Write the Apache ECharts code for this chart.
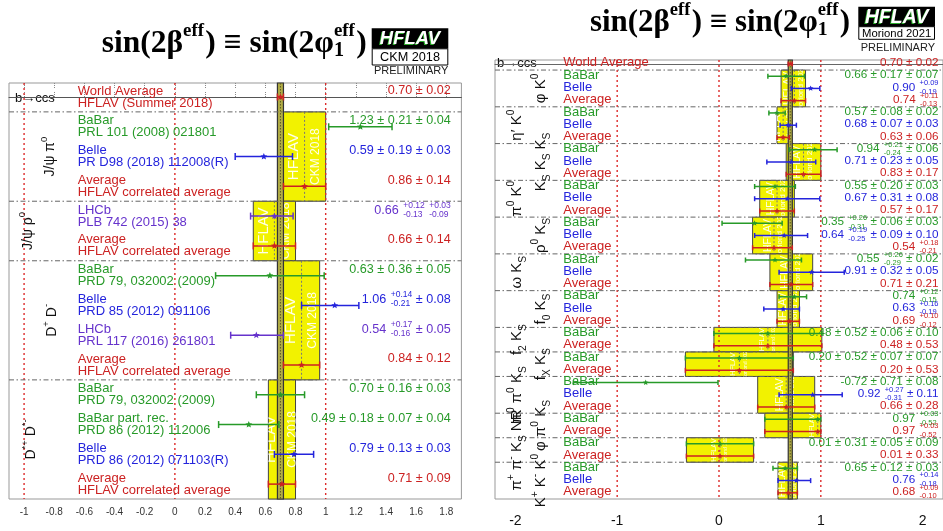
<!DOCTYPE html>
<html>
<head>
<meta charset="utf-8">
<title>sin(2beta eff) averages</title>
<script src="https://cdn.jsdelivr.net/npm/echarts@6.0.0/dist/echarts.min.js"></script>
<style>
  html, body { margin: 0; padding: 0; background: #fff; }
  #chart { width: 943px; height: 531px; }
</style>
</head>
<body>
<div id="chart"></div>
<script>
// ---------- left panel: CKM 2018, b -> ccd modes ----------
const leftExp = ['World', 'BaBar', 'Belle', 'Average', 'LHCb', 'Average', 'BaBar', 'Belle', 'LHCb', 'Average',
  'BaBar', 'BaBar', 'Belle', 'Average'];
const leftName = ['World Average', 'BaBar', 'Belle', 'Average', 'LHCb', 'Average', 'BaBar', 'Belle', 'LHCb', 'Average',
  'BaBar', 'BaBar part. rec.', 'Belle', 'Average'];
const leftRef = ['HFLAV (Summer 2018)', 'PRL 101 (2008) 021801', 'PR D98 (2018) 112008(R)', 'HFLAV correlated average',
  'PLB 742 (2015) 38', 'HFLAV correlated average', 'PRD 79, 032002 (2009)', 'PRD 85 (2012) 091106',
  'PRL 117 (2016) 261801', 'HFLAV correlated average', 'PRD 79, 032002 (2009)', 'PRD 86 (2012) 112006',
  'PRD 86 (2012) 071103(R)', 'HFLAV correlated average'];
const leftVal = [0.70, 1.23, 0.59, 0.86, 0.66, 0.66, 0.63, 1.06, 0.54, 0.84, 0.70, 0.49, 0.79, 0.71];
const leftErrUp = [0.02, 0.21, 0.19, 0.14, 0.124, 0.14, 0.36, 0.16, 0.18, 0.12, 0.16, 0.20, 0.13, 0.09];
const leftErrDn = [0.02, 0.21, 0.19, 0.14, 0.158, 0.14, 0.36, 0.22, 0.17, 0.12, 0.16, 0.20, 0.13, 0.09];
const leftValText = ['0.70 ± 0.02', '1.23 ± 0.21 ± 0.04', '0.59 ± 0.19 ± 0.03', '0.86 ± 0.14',
  '0.66 [+0.12|-0.13] [+0.03|-0.09]', '0.66 ± 0.14', '0.63 ± 0.36 ± 0.05', '1.06 [+0.14|-0.21] ± 0.08',
  '0.54 [+0.17|-0.16] ± 0.05', '0.84 ± 0.12', '0.70 ± 0.16 ± 0.03', '0.49 ± 0.18 ± 0.07 ± 0.04',
  '0.79 ± 0.13 ± 0.03', '0.71 ± 0.09'];
const leftGroup = ['J/ψ π^0', 'J/ψ ρ^0', 'D^+ D^-', 'D^{*+} D^{*-}'];
const leftGroupFrom = [0.5, 3.5, 5.5, 9.5];
const leftGroupTo = [3.5, 5.5, 9.5, 13.5];
const leftGroupAvg = [3, 5, 9, 13];
const leftTicks = [-1, -0.8, -0.6, -0.4, -0.2, 0, 0.2, 0.4, 0.6, 0.8, 1, 1.2, 1.4, 1.6, 1.8];

// ---------- right panel: Moriond 2021, b -> qqs modes ----------
const rightExp = ['World',
  'BaBar', 'Belle', 'Average', 'BaBar', 'Belle', 'Average', 'BaBar', 'Belle', 'Average',
  'BaBar', 'Belle', 'Average', 'BaBar', 'Belle', 'Average', 'BaBar', 'Belle', 'Average',
  'BaBar', 'Belle', 'Average', 'BaBar', 'Average', 'BaBar', 'Average',
  'BaBar', 'Belle', 'Average', 'BaBar', 'Average', 'BaBar', 'Average', 'BaBar', 'Belle', 'Average'];
const rightVal = [0.70,
  0.66, 0.90, 0.74, 0.57, 0.68, 0.63, 0.94, 0.71, 0.83,
  0.55, 0.67, 0.57, 0.35, 0.64, 0.54, 0.55, 0.91, 0.71,
  0.74, 0.63, 0.69, 0.48, 0.48, 0.20, 0.20,
  -0.72, 0.92, 0.66, 0.97, 0.97, 0.01, 0.01, 0.65, 0.76, 0.68];
const rightErrUp = [0.02,
  0.18, 0.09, 0.11, 0.08, 0.08, 0.06, 0.22, 0.24, 0.17,
  0.20, 0.32, 0.17, 0.27, 0.23, 0.18, 0.26, 0.32, 0.21,
  0.12, 0.16, 0.10, 0.53, 0.53, 0.53, 0.53,
  0.71, 0.29, 0.28, 0.03, 0.03, 0.33, 0.33, 0.12, 0.14, 0.09];
const rightErrDn = [0.02,
  0.18, 0.19, 0.13, 0.08, 0.08, 0.06, 0.25, 0.24, 0.17,
  0.20, 0.32, 0.17, 0.32, 0.29, 0.21, 0.29, 0.32, 0.21,
  0.15, 0.19, 0.12, 0.53, 0.53, 0.53, 0.53,
  0.71, 0.33, 0.28, 0.52, 0.52, 0.33, 0.33, 0.12, 0.18, 0.10];
const rightValText = ['0.70 ± 0.02',
  '0.66 ± 0.17 ± 0.07', '0.90 [+0.09|-0.19]', '0.74 [+0.11|-0.13]',
  '0.57 ± 0.08 ± 0.02', '0.68 ± 0.07 ± 0.03', '0.63 ± 0.06',
  '0.94 [+0.21|-0.24] ± 0.06', '0.71 ± 0.23 ± 0.05', '0.83 ± 0.17',
  '0.55 ± 0.20 ± 0.03', '0.67 ± 0.31 ± 0.08', '0.57 ± 0.17',
  '0.35 [+0.26|-0.31] ± 0.06 ± 0.03', '0.64 [+0.19|-0.25] ± 0.09 ± 0.10', '0.54 [+0.18|-0.21]',
  '0.55 [+0.26|-0.29] ± 0.02', '0.91 ± 0.32 ± 0.05', '0.71 ± 0.21',
  '0.74 [+0.12|-0.15]', '0.63 [+0.16|-0.19]', '0.69 [+0.10|-0.12]',
  '0.48 ± 0.52 ± 0.06 ± 0.10', '0.48 ± 0.53', '0.20 ± 0.52 ± 0.07 ± 0.07', '0.20 ± 0.53',
  '-0.72 ± 0.71 ± 0.08', '0.92 [+0.27|-0.31] ± 0.11', '0.66 ± 0.28',
  '0.97 [+0.03|-0.52]', '0.97 [+0.03|-0.52]', '0.01 ± 0.31 ± 0.05 ± 0.09', '0.01 ± 0.33',
  '0.65 ± 0.12 ± 0.03', '0.76 [+0.14|-0.18]', '0.68 [+0.09|-0.10]'];
const rightGroup = ['φ K^0', 'η′ K^0', 'K_S K_S K_S', 'π^0 K^0', 'ρ^0 K_S', 'ω K_S', 'f_0 K_S', 'f_2 K_S',
  'f_X K_S', 'π^0 π^0 K_S', 'φ π^0 K_S', 'π^+ π^- K_S NR', 'K^+ K^- K^0'];
const rightGroupFrom = [0.5, 3.5, 6.5, 9.5, 12.5, 15.5, 18.5, 21.5, 23.5, 25.5, 28.5, 30.5, 32.5];
const rightGroupTo = [3.5, 6.5, 9.5, 12.5, 15.5, 18.5, 21.5, 23.5, 25.5, 28.5, 30.5, 32.5, 35.5];
const rightGroupAvg = [3, 6, 9, 12, 15, 18, 21, 23, 25, 28, 30, 32, 35];
const rightTicks = [-2, -1, 0, 1, 2];

const refLines = [-1, 0, 1];

// ---------- styling ----------
const FONT = '"Liberation Sans", Arial, Helvetica, sans-serif';
const SERIF = '"Liberation Serif", "DejaVu Serif", "Times New Roman", serif';
const COL = { World: '#cc2222', Average: '#cc2222', BaBar: '#279a29', Belle: '#2424dc', LHCb: '#6633cc' };

const mctx = document.createElement('canvas').getContext('2d');
function tw(s, font) { mctx.font = font; return mctx.measureText(s).width; }

function txt(text, x, y, font, fill, align) {
  return {
    type: 'text',
    style: { text, x, y, font, fill, align: align || 'left', textAlign: align || 'left',
      verticalAlign: 'middle', textVerticalAlign: 'middle' }
  };
}
function seg(x1, y1, x2, y2, stroke, lw, dash) {
  return { type: 'line', shape: { x1, y1, x2, y2 }, style: { stroke, lineWidth: lw, lineDash: dash || null } };
}
function star(cx, cy, r, c) {
  const pts = [];
  for (let k = 0; k < 10; k++) {
    const rr = k % 2 ? r * 0.45 : r;
    const a = -Math.PI / 2 + k * Math.PI / 5;
    pts.push([cx + rr * Math.cos(a), cy + rr * Math.sin(a)]);
  }
  return { type: 'polygon', shape: { points: pts }, style: { fill: c } };
}

// "^x" / "^{..}" superscript, "_x" subscript -> rich text
function richLabel(s) {
  let out = '', buf = '';
  for (let i = 0; i < s.length; i++) {
    const ch = s[i];
    if (ch === '^' || ch === '_') {
      let t;
      if (s[i + 1] === '{') { const j = s.indexOf('}', i); t = s.slice(i + 2, j); i = j; }
      else { t = s[i + 1]; i++; }
      if (buf) { out += '{m|' + buf + '}'; buf = ''; }
      out += '{' + (ch === '^' ? 'p' : 'b') + '|' + t + '}';
    } else buf += ch;
  }
  if (buf) out += '{m|' + buf + '}';
  return out;
}
function richStyle(size) {
  return {
    m: { fontSize: size, fontFamily: FONT, fill: '#111', lineHeight: size * 1.5 },
    p: { fontSize: size * 0.68, fontFamily: FONT, fill: '#111', lineHeight: size * 0.75, verticalAlign: 'top' },
    b: { fontSize: size * 0.68, fontFamily: FONT, fill: '#111', lineHeight: size * 0.75, verticalAlign: 'bottom' }
  };
}

// value text, right aligned, "[up|down]" = stacked asymmetric error
function valueEls(str, xr, y, big, small, color) {
  const parts = str.split(/(\[[^\]]*\])/).filter(s => s.length);
  const els = [];
  let x = xr;
  for (let i = parts.length - 1; i >= 0; i--) {
    const p = parts[i];
    if (p[0] === '[') {
      const ud = p.slice(1, -1).split('|');
      const f = small + 'px ' + FONT;
      const w = Math.max(tw(ud[0], f), tw(ud[1], f));
      els.push(txt(ud[0], x - w, y - big * 0.36, f, color, 'left'));
      els.push(txt(ud[1], x - w, y + big * 0.36, f, color, 'left'));
      x -= w + 1;
    } else {
      const f = big + 'px ' + FONT;
      els.push(txt(p, x, y, f, color, 'right'));
      x -= tw(p, f);
    }
  }
  return els;
}

function panel(P) {
  const L = P.lay;
  const common = { type: 'custom', xAxisIndex: P.xi, yAxisIndex: P.yi, silent: true, animation: false };
  const boxData = P.gAvg.map((k, g) => [P.val[k] - P.dn[k], P.val[k] + P.up[k], P.gFrom[g], P.gTo[g], P.val[k]]);
  const barData = P.val.map((v, i) => [v, i, v - P.dn[i], v + P.up[i], i]);
  const wa = [[P.val[0] - P.dn[0], P.val[0] + P.up[0], P.ymin, P.ymax, P.val[0]]];
  return [
    // yellow average boxes
    Object.assign({}, common, {
      z: 2, data: boxData,
      renderItem: (params, api) => {
        const a = api.coord([api.value(0), api.value(2)]);
        const b = api.coord([api.value(1), api.value(3)]);
        const m = api.coord([api.value(4), api.value(2)]);
        const x = a[0], y = a[1], w = b[0] - a[0], h = b[1] - a[1];
        const f1 = Math.min(L.hfSize, h / 3.3), f2 = Math.min(L.tagSize, h / 4.6);
        const t1 = txt('HFLAV', 0, 0, f1 + 'px ' + FONT, 'rgba(255,255,255,0.92)', 'center');
        t1.x = m[0] - L.tOff; t1.y = y + h / 2; t1.rotation = Math.PI / 2;
        const t2 = txt(L.tag, 0, 0, f2 + 'px ' + FONT, 'rgba(255,255,255,0.92)', 'center');
        t2.x = m[0] + L.tOff; t2.y = y + h / 2; t2.rotation = Math.PI / 2;
        return { type: 'group', children: [
          { type: 'rect', shape: { x, y, width: w, height: h }, style: { fill: '#f2f200', stroke: '#444', lineWidth: 1 } },
          { type: 'group', clipPath: { type: 'rect', shape: { x, y, width: w, height: h } }, children: [t1, t2] },
          seg(m[0], y, m[0], y + h, '#777', 1, [2, 2])
        ] };
      }
    }),
    // world average band
    Object.assign({}, common, {
      z: 3, data: wa,
      renderItem: (params, api) => {
        const a = api.coord([api.value(0), api.value(2)]);
        const b = api.coord([api.value(1), api.value(3)]);
        const m = api.coord([api.value(4), api.value(2)]);
        return { type: 'group', children: [
          { type: 'rect', shape: { x: a[0], y: a[1], width: b[0] - a[0], height: b[1] - a[1] },
            style: { fill: '#b2ad45', stroke: '#333', lineWidth: 1.2 } },
          seg(m[0], a[1], m[0], b[1], '#5d5a20', 1, [1.5, 1.5])
        ] };
      }
    }),
    // red dotted reference lines
    Object.assign({}, common, {
      z: 4, data: refLines.map(v => [v, 0]),
      renderItem: (params, api) => {
        const cs = params.coordSys;
        const x = api.coord([api.value(0), 0])[0];
        return seg(x, cs.y, x, cs.y + cs.height, '#dd2a2a', 1.4, [2, 3]);
      }
    }),
    // group separators
    Object.assign({}, common, {
      z: 4, data: P.gFrom.map(v => [0, v]),
      renderItem: (params, api) => {
        const cs = params.coordSys;
        const y = api.coord([0, api.value(1)])[1];
        return seg(cs.x, y, cs.x + cs.width, y, '#666', 1, [5, 2.5, 1.5, 2.5]);
      }
    }),
    // error bars
    Object.assign({}, common, {
      z: 5, data: barData,
      renderItem: (params, api) => {
        const i = api.value(4);
        const c = COL[P.exp[i]];
        const p = api.coord([api.value(0), api.value(1)]);
        const a = api.coord([api.value(2), api.value(1)]);
        const b = api.coord([api.value(3), api.value(1)]);
        const y = p[1];
        return { type: 'group', children: [
          seg(a[0], y, b[0], y, c, 1.5),
          seg(a[0], y - L.cap, a[0], y + L.cap, c, 1.5),
          seg(b[0], y - L.cap, b[0], y + L.cap, c, 1.5),
          star(p[0], y, L.star, c)
        ] };
      }
    }),
    // entry names, references and values
    Object.assign({}, common, {
      z: 6, data: P.val.map((v, i) => [0, i]),
      renderItem: (params, api) => {
        const i = api.value(1);
        const cs = params.coordSys;
        const y = api.coord([0, i])[1];
        const c = COL[P.exp[i]];
        const els = [txt(P.name[i], cs.x + L.nameDx, y + L.nameDy, L.nameFont + 'px ' + FONT, c, 'left')];
        if (P.ref) els.push(txt(P.ref[i], cs.x + L.nameDx, y + L.refDy, L.nameFont + 'px ' + FONT, c, 'left'));
        return { type: 'group', children: els.concat(valueEls(P.vtxt[i], L.valRight, y + L.nameDy, L.valFont, L.smallFont, c)) };
      }
    }),
    // rotated group labels
    Object.assign({}, common, {
      z: 6, data: P.group.map((g, k) => [0, P.gFrom[k], P.gTo[k], k]),
      renderItem: (params, api) => {
        const k = api.value(3);
        const y = (api.coord([0, api.value(1)])[1] + api.coord([0, api.value(2)])[1]) / 2;
        return {
          type: 'text', x: L.gx[k], y: y, rotation: Math.PI / 2,
          style: { text: richLabel(P.group[k]), rich: richStyle(L.gFont), align: 'center', textAlign: 'center',
            verticalAlign: 'middle', textVerticalAlign: 'middle', fill: '#111' }
        };
      }
    })
  ];
}

const leftSeries = panel({
  xi: 0, yi: 0, ymin: -0.47, ymax: 13.5,
  exp: leftExp, name: leftName, ref: leftRef, val: leftVal, up: leftErrUp, dn: leftErrDn, vtxt: leftValText,
  group: leftGroup, gFrom: leftGroupFrom, gTo: leftGroupTo, gAvg: leftGroupAvg,
  lay: { nameDx: 68.7, nameDy: -6, refDy: 6, valRight: 450.7, nameFont: 13, valFont: 12.6, smallFont: 8.5,
    cap: 3.5, star: 3.6, gx: [50, 28, 52, 31], gFont: 14, hfSize: 15, tagSize: 12, tOff: 11, tag: 'CKM 2018' }
});
const rightSeries = panel({
  xi: 2, yi: 1, ymin: -0.32, ymax: 35.5,
  exp: rightExp, name: rightExp.map(e => e === 'World' ? 'World Average' : e), ref: null,
  val: rightVal, up: rightErrUp, dn: rightErrDn, vtxt: rightValText,
  group: rightGroup, gFrom: rightGroupFrom, gTo: rightGroupTo, gAvg: rightGroupAvg,
  lay: { nameDx: 68.3, nameDy: -1, valRight: 938.5, nameFont: 13, valFont: 11.7, smallFont: 7.5,
    cap: 2.5, star: 3, gx: [541, 517, 541, 517, 541, 517, 541, 517, 541, 517, 541, 517, 541], gFont: 15,
    hfSize: 10.5, tagSize: 9, tOff: 6, tag: 'Moriond 2021' }
});

// ---------- title, logos ----------
function titleEls(x0, x1, base) {
  function build(s) {
    const big = 'bold ' + s + 'px ' + SERIF;
    const sup = 'bold ' + (s * 0.6) + 'px ' + SERIF;
    const sub = 'bold ' + (s * 0.64) + 'px ' + SERIF;
    const parts = [];
    let x = 0;
    const add = (t, font, dy, size) => { parts.push({ t, font, x, dy, size }); return tw(t, font); };
    x += add('sin(2β', big, 0, s);
    x += add('eff', sup, -0.55 * s, s * 0.6) + 0.04 * s;
    x += add(') ≡ sin(2φ', big, 0, s);
    const w1 = add('1', sub, 0.1 * s, s * 0.64);
    const w2 = add('eff', sup, -0.55 * s, s * 0.6);
    x += Math.max(w1, w2) + 0.04 * s;
    x += add(')', big, 0, s);
    return { parts, width: x };
  }
  let r = build(32);
  r = build(32 * (x1 - x0) / r.width);
  return r.parts.map(p => txt(p.t, x0 + p.x, base + p.dy - 0.34 * p.size, p.font, '#000', 'left'));
}
function logoEls(x, y, w, h1, h2, hfSize, tag, tagSize, preY) {
  const hf = 'italic bold ' + hfSize + 'px ' + FONT;
  return [
    { type: 'rect', shape: { x, y, width: w, height: h1 }, style: { fill: '#000' } },
    txt('HFLAV', x + w / 2 - 1, y + h1 / 2 + 1.5, hf, '#2fae2f', 'center'),
    txt('HFLAV', x + w / 2, y + h1 / 2 + 0.5, hf, '#ffffff', 'center'),
    { type: 'rect', shape: { x: x + 0.5, y: y + h1, width: w - 1, height: h2 }, style: { fill: '#fff', stroke: '#000', lineWidth: 1 } },
    txt(tag, x + w / 2, y + h1 + h2 / 2 + 0.5, tagSize + 'px ' + FONT, '#000', 'center'),
    txt('PRELIMINARY', x + w, preY, '11px ' + FONT, '#222', 'right')
  ];
}

const graphics = []
  .concat(titleEls(101.7, 366.7, 55))
  .concat(titleEls(590, 850, 34))
  .concat(logoEls(371.7, 28.3, 76.6, 20.5, 16.2, 18.5, 'CKM 2018', 12.7, 71))
  .concat(logoEls(858.3, 6.7, 76.7, 20, 12.6, 19.5, 'Moriond 2021', 11.3, 48.3))
  .concat([txt('b→ccs', 15, 98, '13px ' + FONT, '#111', 'left'), txt('b→ccs', 497, 63, '13px ' + FONT, '#111', 'left')]);

const chart = echarts.init(document.getElementById('chart'), null, { renderer: 'canvas' });
chart.setOption({
  animation: false,
  backgroundColor: '#fff',
  grid: [
    { left: 9, top: 83, width: 452.4, height: 416, show: true, borderColor: '#999', borderWidth: 1 },
    { left: 495, top: 60, width: 451, height: 439, show: true, borderColor: '#999', borderWidth: 1 }
  ],
  xAxis: [
    { type: 'value', gridIndex: 0, min: -1.1, max: 1.9, position: 'bottom',
      axisLine: { show: true, lineStyle: { color: '#555', width: 1 } },
      axisTick: { show: true, inside: true, length: 5, customValues: leftTicks, lineStyle: { color: '#888', type: 'dotted' } },
      axisLabel: { customValues: leftTicks, fontSize: 10, color: '#333', fontFamily: FONT, margin: 8 },
      splitLine: { show: false } },
    { type: 'value', gridIndex: 0, min: -1.1, max: 1.9, position: 'top',
      axisLine: { show: false },
      axisTick: { show: true, inside: true, length: 5, customValues: leftTicks, lineStyle: { color: '#888', type: 'dotted' } },
      axisLabel: { show: false }, splitLine: { show: false } },
    { type: 'value', gridIndex: 1, min: -2.2, max: 2.2, position: 'bottom',
      axisLine: { show: true, lineStyle: { color: '#666', width: 1 } },
      axisTick: { show: false },
      axisLabel: { customValues: rightTicks, fontSize: 14, color: '#111', fontFamily: FONT, margin: 15 },
      splitLine: { show: false } }
  ],
  yAxis: [
    { type: 'value', gridIndex: 0, min: -0.47, max: 13.5, inverse: true, show: false, splitLine: { show: false } },
    { type: 'value', gridIndex: 1, min: -0.32, max: 35.5, inverse: true, show: false, splitLine: { show: false } }
  ],
  graphic: { elements: graphics },
  series: leftSeries.concat(rightSeries)
});
</script>
</body>
</html>
